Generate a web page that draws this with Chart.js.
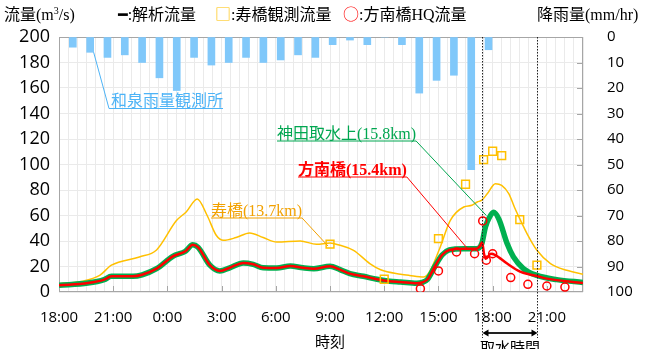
<!DOCTYPE html>
<html>
<head>
<meta charset="utf-8">
<script src="https://cdn.jsdelivr.net/npm/chart.js@4.4.1/dist/chart.umd.min.js"></script>
<style>
  html, body { margin: 0; padding: 0; background: #fff; }
  #wrap { width: 650px; height: 349px; }
</style>
</head>
<body>
<div id="wrap"><canvas id="flowChart" width="650" height="349"></canvas></div>
<script>
// x axis is hours counted from 18:00 on the first day
const hourLabels = ['18:00', '21:00', '0:00', '3:00', '6:00', '9:00', '12:00', '15:00', '18:00', '21:00'];

// 和泉雨量観測所 hourly rainfall (mm/hr), one bar per slot
const rainSlot = [1, 2, 3, 4, 5, 6, 7, 8, 9, 10, 11, 12, 13, 14, 15, 16, 17, 18, 19, 20, 21, 22, 23, 24, 25];
const rainMm = [4, 6, 8, 7, 10, 16, 21, 8, 11, 10, 8, 10, 9, 7, 8, 3, 1.2, 3, 0, 3, 22, 17, 15, 52, 5];

// 寿橋(13.7km) analysed flow
const kotobukiHour = [0, 1.3, 2.25, 2.9, 4.45, 5.4, 6.5, 7.05, 7.65, 8.2, 8.7, 9.1, 9.8, 10.55, 11.3, 12.05, 13.35, 14.25, 15.0, 15.55, 16.3, 17.2, 17.8, 18.9, 19.4, 20.2, 20.55, 21.1, 21.65, 22.4, 22.85, 23.15, 23.4, 23.7, 24.15, 24.5, 24.9, 25.2, 25.55, 25.9, 26.45, 27.2, 28.1, 29];
const kotobukiFlow = [6.5, 8.4, 13, 21, 27.5, 33, 56, 63, 73, 60, 44.5, 40.5, 42.7, 46.3, 42.7, 39.2, 40, 37.4, 38.4, 36.6, 32.7, 22.3, 17.5, 14, 13, 11.8, 17, 35.3, 56, 66.7, 68, 70.6, 72, 77, 85, 83.7, 77, 66.7, 56, 45.8, 32.7, 22.3, 17, 14];

// 神田取水上(15.8km) analysed flow
const kandaHour = [0, 1.6, 2.5, 2.9, 4.1, 4.6, 5.4, 6.3, 7.0, 7.4, 7.7, 8.35, 8.9, 9.45, 10.2, 10.75, 11.3, 12.05, 12.8, 13.5, 14.1, 15.0, 15.55, 16.1, 16.85, 17.6, 18.3, 18.9, 19.8, 20.1, 20.4, 20.8, 21.2, 21.6, 22.4, 23.1, 23.4, 23.6, 23.8, 24.05, 24.35, 24.8, 25.15, 25.7, 26.45, 27.55, 29];
const kandaFlow = [5.2, 7, 9.7, 12.3, 12.3, 13.5, 18.3, 28, 32, 37, 35, 21, 16.5, 19, 22.8, 21.7, 19, 18.8, 20.4, 19, 18.3, 20.2, 17.5, 14.4, 12.3, 10, 8.4, 7.8, 6.8, 7.5, 10, 20, 29, 33, 34, 34, 38, 51, 58, 62.5, 57, 38, 27.5, 18.4, 13, 9.7, 7.5];

// 方南橋(15.4km) analysed flow
const honanHour = [0, 1.6, 2.5, 2.9, 4.1, 4.6, 5.4, 6.3, 7.0, 7.4, 7.7, 8.35, 8.9, 9.45, 10.2, 10.75, 11.3, 12.05, 12.8, 13.5, 14.1, 15.0, 15.55, 16.1, 16.85, 17.6, 18.3, 18.9, 19.8, 20.1, 20.4, 20.8, 21.2, 21.6, 22.4, 23.1, 23.3, 23.42, 23.52, 23.62, 23.9, 24.15, 24.8, 25.55, 26.0, 26.45, 27.0, 29];
const honanFlow = [5.2, 7, 9.7, 12.3, 12.3, 13.5, 18.3, 28, 32, 37, 35, 21, 16.5, 19, 22.8, 21.7, 19, 18.8, 20.4, 19, 18.3, 20.2, 17.5, 14.4, 12.3, 10, 8.4, 7.8, 6.8, 7.5, 10, 20, 29, 33, 34, 34, 36, 39, 30, 26, 30, 29, 22.3, 15.7, 13.9, 12.5, 10.5, 7];

// 寿橋観測流量
const kotobukiObsHour = [15, 18, 21, 22.5, 23.5, 24, 24.5, 25.5, 26.45];
const kotobukiObsFlow = [37.6, 10, 41.9, 84.5, 103.8, 110.4, 107, 56.8, 21];

// 方南橋HQ流量
const honanHqHour = [20, 21, 22, 23, 23.45, 23.65, 24, 25, 25.95, 27, 28];
const honanHqFlow = [2.6, 16.5, 31.4, 30, 55.7, 24.9, 30, 11.3, 6, 4.7, 3.9];

// 取水時間 window
const intakeHours = [23.4, 26.45];

const pts = (xs, ys) => xs.map((x, i) => ({ x: x, y: ys[i] }));
const mixFont = (size, bold) => (bold ? 'bold ' : '') + size + 'px "Liberation Serif", "Noto Sans CJK JP"';
const jpFont = size => size + 'px "Noto Sans CJK JP"';

function drawRuns(ctx, x, y, runs) {
  runs.forEach(r => {
    ctx.font = r.font;
    ctx.fillStyle = r.color || '#000';
    ctx.fillText(r.text, x, y + (r.dy || 0));
    x += ctx.measureText(r.text).width;
  });
  return x;
}

// underlined label with a leader line from one end of the underline
function callout(ctx, text, color, bold, left, base, tx, ty, fromLeft) {
  ctx.font = mixFont(16, bold);
  ctx.fillStyle = color;
  ctx.fillText(text, left, base);
  const right = left + ctx.measureText(text).width;
  const uy = base + 2.5;
  ctx.strokeStyle = color;
  ctx.lineWidth = 1;
  ctx.beginPath();
  if (fromLeft) {
    ctx.moveTo(right, uy);
    ctx.lineTo(left - 2, uy);
  } else {
    ctx.moveTo(left, uy);
    ctx.lineTo(right, uy);
  }
  ctx.lineTo(tx, ty);
  ctx.stroke();
}

const overlay = {
  id: 'overlay',
  beforeDatasetsDraw(chart) {
    const { ctx, chartArea: a, scales } = chart;
    ctx.save();
    ctx.strokeStyle = '#A6A6A6';
    ctx.lineWidth = 1;
    ctx.strokeRect(a.left + 0.5, a.top + 0.5, a.width - 1, a.height - 1);
    ctx.beginPath();
    hourLabels.forEach((_, i) => {
      if (i === 0) return;
      const x = Math.round(scales.x.getPixelForValue(i * 3)) + 0.5;
      ctx.moveTo(x, a.bottom);
      ctx.lineTo(x, a.bottom - 6);
    });
    scales.yRain.ticks.forEach(t => {
      if (t.value <= 0 || t.value >= 100) return;
      const y = Math.round(scales.yRain.getPixelForValue(t.value)) + 0.5;
      ctx.moveTo(a.right, y);
      ctx.lineTo(a.right - 6, y);
    });
    ctx.stroke();
    ctx.restore();
  },
  afterDatasetsDraw(chart) {
    const { ctx, chartArea: a, scales } = chart;
    const x = scales.x, y = scales.y;
    ctx.save();

    // intake window
    const xs = intakeHours.map(h => Math.round(x.getPixelForValue(h)) + 0.5);
    ctx.strokeStyle = '#222';
    ctx.lineWidth = 1;
    ctx.setLineDash([1.5, 1.5]);
    ctx.beginPath();
    xs.forEach(px => { ctx.moveTo(px, a.top); ctx.lineTo(px, 338); });
    ctx.stroke();
    ctx.setLineDash([]);
    const ay = 333;
    ctx.lineWidth = 2;
    ctx.beginPath();
    ctx.moveTo(xs[0] + 4, ay);
    ctx.lineTo(xs[1] - 4, ay);
    ctx.stroke();
    ctx.fillStyle = '#000';
    ctx.beginPath();
    ctx.moveTo(xs[0], ay); ctx.lineTo(xs[0] + 6, ay - 3.5); ctx.lineTo(xs[0] + 6, ay + 3.5);
    ctx.moveTo(xs[1], ay); ctx.lineTo(xs[1] - 6, ay - 3.5); ctx.lineTo(xs[1] - 6, ay + 3.5);
    ctx.fill();
    ctx.font = jpFont(15);
    ctx.textAlign = 'center';
    ctx.fillText('取水時間', (xs[0] + xs[1]) / 2, 353);
    ctx.fillText('時刻', 330, 347);
    ctx.textAlign = 'left';

    // callouts
    callout(ctx, '和泉雨量観測所', '#4DB3F6', false, 111, 106,
      chart.scales.xRain.getPixelForValue(rainSlot[1]), chart.scales.yRain.getPixelForValue(rainMm[1]), true);
    callout(ctx, '寿橋(13.7km)', '#F2A100', false, 211, 215.5,
      x.getPixelForValue(kotobukiObsHour[0]) - 2, y.getPixelForValue(kotobukiObsFlow[0]) + 2);
    callout(ctx, '神田取水上(15.8km)', '#00A650', false, 277, 138.5,
      x.getPixelForValue(23.65), y.getPixelForValue(60));
    callout(ctx, '方南橋(15.4km)', '#FF0000', true, 298, 174.5,
      x.getPixelForValue(22.67), y.getPixelForValue(33));

    // header row
    const hb = 20;
    let px = drawRuns(ctx, 4, hb, [
      { text: '流量', font: jpFont(16) },
      { text: '(m', font: mixFont(16) },
      { text: '3', font: mixFont(10), dy: -6 }
    ]);
    drawRuns(ctx, px, hb, [{ text: '/s)', font: mixFont(16) }]);
    drawRuns(ctx, 118, hb, [
      { text: '━', font: 'bold 16px "DejaVu Sans"' },
      { text: ':', font: mixFont(16) },
      { text: '解析流量', font: jpFont(16) }
    ]);
    drawRuns(ctx, 215, hb, [
      { text: '□', font: jpFont(16), color: '#FFC000' },
      { text: ':', font: mixFont(16) },
      { text: '寿橋観測流量', font: jpFont(16) }
    ]);
    drawRuns(ctx, 343, hb, [
      { text: '○', font: jpFont(16), color: '#FF0000' },
      { text: ':', font: mixFont(16) },
      { text: '方南橋', font: jpFont(16) },
      { text: 'HQ', font: mixFont(16) },
      { text: '流量', font: jpFont(16) }
    ]);
    drawRuns(ctx, 537, hb, [
      { text: '降雨量', font: jpFont(16) },
      { text: '(mm/hr)', font: mixFont(16) }
    ]);
    ctx.restore();
  }
};

const ctx = document.getElementById('flowChart').getContext('2d');
const flowChart = new Chart(ctx, {
  data: {
    datasets: [
      {
        type: 'bar',
        label: '和泉雨量観測所',
        data: pts(rainSlot, rainMm),
        xAxisID: 'xRain',
        yAxisID: 'yRain',
        backgroundColor: '#80C8FA',
        barThickness: 7,
        order: 10
      },
      {
        type: 'line',
        label: '寿橋(13.7km)',
        data: pts(kotobukiHour, kotobukiFlow),
        borderColor: '#FFC000',
        borderWidth: 1.5,
        pointRadius: 0,
        cubicInterpolationMode: 'monotone',
        order: 6
      },
      {
        type: 'line',
        label: '神田取水上(15.8km)',
        data: pts(kandaHour, kandaFlow),
        borderColor: '#00B050',
        borderWidth: 5.5,
        pointRadius: 0,
        cubicInterpolationMode: 'monotone',
        order: 5
      },
      {
        type: 'line',
        label: '方南橋(15.4km)',
        data: pts(honanHour, honanFlow),
        borderColor: '#FF0000',
        borderWidth: 2.5,
        pointRadius: 0,
        cubicInterpolationMode: 'monotone',
        order: 4
      },
      {
        type: 'line',
        label: '寿橋観測流量',
        data: pts(kotobukiObsHour, kotobukiObsFlow),
        showLine: false,
        pointStyle: 'rect',
        pointRadius: 5.5,
        pointBorderWidth: 1.5,
        pointBorderColor: '#FFC000',
        pointBackgroundColor: 'rgba(255,255,255,0)',
        order: 2
      },
      {
        type: 'line',
        label: '方南橋HQ流量',
        data: pts(honanHqHour, honanHqFlow),
        showLine: false,
        pointStyle: 'circle',
        pointRadius: 4,
        pointBorderWidth: 1.5,
        pointBorderColor: '#FF0000',
        pointBackgroundColor: 'rgba(255,255,255,0)',
        order: 1
      }
    ]
  },
  options: {
    responsive: false,
    animation: false,
    devicePixelRatio: 1,
    layout: { padding: { top: 37, left: 0, right: 0, bottom: 0 } },
    plugins: { legend: { display: false }, tooltip: { enabled: false } },
    scales: {
      x: {
        type: 'linear',
        min: 0,
        max: 29,
        offset: false,
        border: { display: false },
        grid: { color: '#EAEAEA', drawTicks: false },
        ticks: {
          stepSize: 0.5,
          autoSkip: false,
          maxRotation: 0,
          padding: 17,
          color: '#000',
          font: { family: 'Open Sans', size: 15 },
          callback: v => (v % 3 === 0 && hourLabels[v / 3] !== undefined) ? hourLabels[v / 3] : ''
        },
        afterFit: s => { s.height = 57; }
      },
      xRain: {
        type: 'linear',
        display: false,
        offset: false,
        min: 0,
        max: 30.25
      },
      y: {
        position: 'left',
        min: 0,
        max: 200,
        border: { display: false },
        grid: { color: '#EAEAEA', drawTicks: false },
        ticks: {
          stepSize: 10,
          padding: 9,
          color: '#000',
          font: { family: 'Open Sans', size: 18 },
          callback: v => (v % 20 === 0 ? v : '')
        },
        afterFit: s => { s.width = 59; }
      },
      yRain: {
        position: 'right',
        min: 0,
        max: 100,
        reverse: true,
        border: { display: false },
        grid: { drawOnChartArea: false, drawTicks: false },
        ticks: {
          stepSize: 10,
          padding: 24,
          color: '#000',
          font: { family: 'Open Sans', size: 15 }
        },
        afterFit: s => { s.width = 67; }
      }
    }
  },
  plugins: [overlay]
});
</script>
</body>
</html>
